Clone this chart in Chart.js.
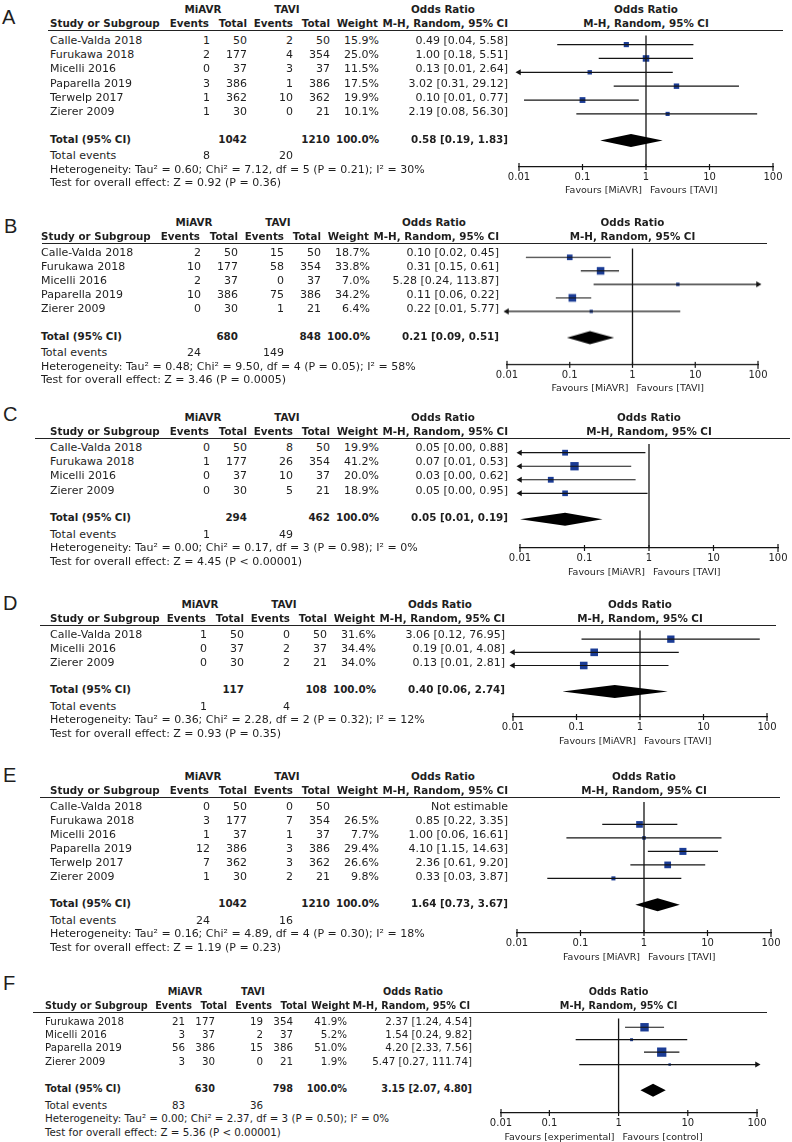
<!DOCTYPE html>
<html>
<head>
<meta charset="utf-8">
<script src="https://cdn.jsdelivr.net/npm/chart.js@4.4.1/dist/chart.umd.min.js"></script>
<style>
  body { margin: 0; background: #fff; }
  #page { position: relative; width: 792px; height: 1142px; overflow: hidden; font-family: "DejaVu Sans", sans-serif; color: #1e1e1e; }
  .t { position: absolute; white-space: nowrap; line-height: 13px; }
  .rule { position: absolute; height: 1px; background: #222; }
  .letter { position: absolute; font-family: "Liberation Sans", sans-serif; font-size: 20px; line-height: 20px; }
  canvas { position: absolute; }
</style>
</head>
<body>
<div id="page"></div>
<script>
// ---- data: A ----
const studiesA = ['Calle-Valda 2018', 'Furukawa 2018', 'Micelli 2016', 'Paparella 2019', 'Terwelp 2017', 'Zierer 2009'];
const miavrEventsA = [1, 2, 0, 3, 1, 1];
const miavrTotalA = [50, 177, 37, 386, 362, 30];
const taviEventsA = [2, 4, 3, 1, 10, 0];
const taviTotalA = [50, 354, 37, 386, 362, 21];
const weightA = [15.9, 25.0, 11.5, 17.5, 19.9, 10.1];
const orA = [0.49, 1.00, 0.13, 3.02, 0.10, 2.19];
const lowA = [0.04, 0.18, 0.006, 0.31, 0.012, 0.08];
const highA = [5.58, 5.51, 2.64, 29.12, 0.77, 56.30];
const sumsA = [1042, 1210, 8, 20];
const pooledA = [0.58, 0.19, 1.83];
const hetA = 'Heterogeneity: Tau² = 0.60; Chi² = 7.12, df = 5 (P = 0.21); I² = 30%';
const testA = 'Test for overall effect: Z = 0.92 (P = 0.36)';

// ---- data: B ----
const studiesB = ['Calle-Valda 2018', 'Furukawa 2018', 'Micelli 2016', 'Paparella 2019', 'Zierer 2009'];
const miavrEventsB = [2, 10, 2, 10, 0];
const miavrTotalB = [50, 177, 37, 386, 30];
const taviEventsB = [15, 58, 0, 75, 1];
const taviTotalB = [50, 354, 37, 386, 21];
const weightB = [18.7, 33.8, 7.0, 34.2, 6.4];
const orB = [0.10, 0.31, 5.28, 0.11, 0.22];
const lowB = [0.02, 0.15, 0.24, 0.06, 0.008];
const highB = [0.45, 0.61, 113.87, 0.22, 5.77];
const sumsB = [680, 848, 24, 149];
const pooledB = [0.21, 0.09, 0.51];
const hetB = 'Heterogeneity: Tau² = 0.48; Chi² = 9.50, df = 4 (P = 0.05); I² = 58%';
const testB = 'Test for overall effect: Z = 3.46 (P = 0.0005)';

// ---- data: C ----
const studiesC = ['Calle-Valda 2018', 'Furukawa 2018', 'Micelli 2016', 'Zierer 2009'];
const miavrEventsC = [0, 1, 0, 0];
const miavrTotalC = [50, 177, 37, 30];
const taviEventsC = [8, 26, 10, 5];
const taviTotalC = [50, 354, 37, 21];
const weightC = [19.9, 41.2, 20.0, 18.9];
const orC = [0.05, 0.07, 0.03, 0.05];
const lowC = [0.003, 0.008, 0.002, 0.003];
const highC = [0.88, 0.53, 0.62, 0.95];
const sumsC = [294, 462, 1, 49];
const pooledC = [0.05, 0.01, 0.19];
const hetC = 'Heterogeneity: Tau² = 0.00; Chi² = 0.17, df = 3 (P = 0.98); I² = 0%';
const testC = 'Test for overall effect: Z = 4.45 (P < 0.00001)';

// ---- data: D ----
const studiesD = ['Calle-Valda 2018', 'Micelli 2016', 'Zierer 2009'];
const miavrEventsD = [1, 0, 0];
const miavrTotalD = [50, 37, 30];
const taviEventsD = [0, 2, 2];
const taviTotalD = [50, 37, 21];
const weightD = [31.6, 34.4, 34.0];
const orD = [3.06, 0.19, 0.13];
const lowD = [0.12, 0.008, 0.008];
const highD = [76.95, 4.08, 2.81];
const sumsD = [117, 108, 1, 4];
const pooledD = [0.40, 0.06, 2.74];
const hetD = 'Heterogeneity: Tau² = 0.36; Chi² = 2.28, df = 2 (P = 0.32); I² = 12%';
const testD = 'Test for overall effect: Z = 0.93 (P = 0.35)';

// ---- data: E ----
const studiesE = ['Calle-Valda 2018', 'Furukawa 2018', 'Micelli 2016', 'Paparella 2019', 'Terwelp 2017', 'Zierer 2009'];
const miavrEventsE = [0, 3, 1, 12, 7, 1];
const miavrTotalE = [50, 177, 37, 386, 362, 30];
const taviEventsE = [0, 7, 1, 3, 3, 2];
const taviTotalE = [50, 354, 37, 386, 362, 21];
const weightE = [null, 26.5, 7.7, 29.4, 26.6, 9.8];
const orE = [null, 0.85, 1.00, 4.10, 2.36, 0.33];
const lowE = [null, 0.22, 0.06, 1.15, 0.61, 0.03];
const highE = [null, 3.35, 16.61, 14.63, 9.20, 3.87];
const sumsE = [1042, 1210, 24, 16];
const pooledE = [1.64, 0.73, 3.67];
const hetE = 'Heterogeneity: Tau² = 0.16; Chi² = 4.89, df = 4 (P = 0.30); I² = 18%';
const testE = 'Test for overall effect: Z = 1.19 (P = 0.23)';

// ---- data: F ----
const studiesF = ['Furukawa 2018', 'Micelli 2016', 'Paparella 2019', 'Zierer 2009'];
const miavrEventsF = [21, 3, 56, 3];
const miavrTotalF = [177, 37, 386, 30];
const taviEventsF = [19, 2, 15, 0];
const taviTotalF = [354, 37, 386, 21];
const weightF = [41.9, 5.2, 51.0, 1.9];
const orF = [2.37, 1.54, 4.20, 5.47];
const lowF = [1.24, 0.24, 2.33, 0.27];
const highF = [4.54, 9.82, 7.56, 111.74];
const sumsF = [630, 798, 83, 36];
const pooledF = [3.15, 2.07, 4.80];
const hetF = 'Heterogeneity: Tau² = 0.00; Chi² = 2.37, df = 3 (P = 0.50); I² = 0%';
const testF = 'Test for overall effect: Z = 5.36 (P < 0.00001)';

const groupLabels = ['MiAVR', 'TAVI'];
const favoursLabels = ['Favours [MiAVR]', 'Favours [TAVI]'];
const favoursLabelsF = ['Favours [experimental]', 'Favours [control]'];
const tickValues = [0.01, 0.1, 1, 10, 100];
const tickValuesF = [0.02, 0.1, 1, 10, 100];
const tickLabels = ['0.01', '0.1', '1', '10', '100'];

// ---- layout ----
const BLUE = '#1b3c95';
const INK = '#141414';
const PAD = 24, AXH = 22;

const colsStd = { study: 50, num: [210, 247, 293, 330, 379, 508], head: [209, 247, 293, 330, 378, 508], groups: [203, 287, 443] };
const colsB = { study: 41, num: [201, 238, 284, 321, 370, 499], head: [200, 238, 284, 321, 369, 499], groups: [194, 278, 434] };
const colsD = { study: 50, num: [207, 244, 290, 327, 376, 505], head: [206, 244, 290, 327, 375, 505], groups: [200, 284, 440] };
const colsF = { study: 45, num: [185, 215, 263, 293, 347, 472], head: [192, 227, 272, 307, 350, 470], groups: [185, 253, 413] };

const page = document.getElementById('page');

function text(str, x, y, align, size, bold) {
  const el = document.createElement('div');
  el.className = 't';
  el.textContent = str;
  el.style.left = x + 'px';
  el.style.top = (y - 6.5) + 'px';
  el.style.fontSize = size + 'px';
  if (bold) el.style.fontWeight = 'bold';
  if (align === 'right') el.style.transform = 'translateX(-100%)';
  if (align === 'center') el.style.transform = 'translateX(-50%)';
  page.appendChild(el);
}

const f2 = v => v.toFixed(2);

// centred tick marks on the log axis
const tickMarks = {
  id: 'tickMarks',
  afterDraw(chart) {
    const s = chart.scales.x, ctx = chart.ctx;
    ctx.save();
    ctx.strokeStyle = INK;
    ctx.lineWidth = 1.2;
    s.ticks.forEach((t, i) => {
      const x = s.getPixelForValue(t.value);
      const h = (i === 0 || i === s.ticks.length - 1) ? 4 : 3;
      ctx.beginPath();
      ctx.moveTo(x, s.top - h);
      ctx.lineTo(x, s.top + h);
      ctx.stroke();
    });
    ctx.restore();
  }
};

// pooled estimate diamond
const diamond = {
  id: 'diamond',
  afterDatasetsDraw(chart, args, opts) {
    const sx = chart.scales.x, sy = chart.scales.y, ctx = chart.ctx;
    const y = sy.getPixelForValue(opts.row);
    ctx.save();
    ctx.fillStyle = '#000';
    ctx.beginPath();
    ctx.moveTo(sx.getPixelForValue(opts.lo), y);
    ctx.lineTo(sx.getPixelForValue(opts.est), y - 6.5);
    ctx.lineTo(sx.getPixelForValue(opts.hi), y);
    ctx.lineTo(sx.getPixelForValue(opts.est), y + 6.5);
    ctx.closePath();
    ctx.fill();
    ctx.restore();
  }
};

function panel(letter, d, L) {
  const C = L.cols, fs = L.fs, fb = L.fs * 0.94;
  const n = d.studies.length;
  const rowY = i => L.rule + 9.3 + i * L.sp;
  const totY = rowY(n - 1) + 27.5;

  // chart
  const canvas = document.createElement('canvas');
  const cw = L.x1 - L.x0 + 2 * PAD, ch = L.axis - L.rule + AXH;
  canvas.width = cw; canvas.height = ch;
  canvas.style.left = (L.x0 - PAD) + 'px';
  canvas.style.top = L.rule + 'px';
  canvas.style.width = cw + 'px';
  canvas.style.height = ch + 'px';
  page.appendChild(canvas);

  const yMin = -9.3 / L.sp, yMax = (L.axis - L.rule - 9.3) / L.sp;
  const totRow = n - 1 + 27.5 / L.sp;
  const datasets = [{
    data: [{ x: 1, y: yMin }, { x: 1, y: yMax }],
    showLine: true, borderColor: INK, borderWidth: 1.3, pointRadius: 0, clip: false
  }];
  d.or.forEach((v, i) => {
    if (v == null) return;
    const lo = d.low[i], hi = d.high[i];
    datasets.push({
      data: [{ x: Math.max(lo, L.xMin), y: i }, { x: Math.min(hi, 100), y: i }],
      showLine: true, borderColor: INK, borderWidth: 1.2, clip: false,
      pointStyle: 'triangle', pointRotation: [-90, 90],
      pointRadius: [lo < L.xMin ? 3.5 : 0, hi > 100 ? 3.5 : 0],
      pointBackgroundColor: INK, pointBorderWidth: 0
    });
  });
  const sq = [], sqR = [];
  d.or.forEach((v, i) => {
    if (v == null) return;
    sq.push({ x: v, y: i });
    sqR.push(Math.max(2.5, 1.3 * Math.sqrt(d.weight[i])) / Math.SQRT2);
  });
  datasets.push({
    data: sq, pointStyle: 'rect', pointRadius: sqR, pointBackgroundColor: BLUE,
    pointBorderWidth: 0, clip: false
  });

  const ticksV = L.ticks;
  const chart = new Chart(canvas, {
    type: 'scatter',
    data: { datasets },
    plugins: [tickMarks, diamond],
    options: {
      responsive: false,
      animation: false,
      events: [],
      layout: { padding: { left: PAD, right: PAD, top: 0, bottom: 0 } },
      plugins: {
        legend: { display: false },
        tooltip: { enabled: false },
        diamond: { est: d.pooled[0], lo: d.pooled[1], hi: d.pooled[2], row: totRow }
      },
      scales: {
        x: {
          type: 'logarithmic', min: L.xMin, max: 100,
          afterBuildTicks: s => { s.ticks = ticksV.map(v => ({ value: v })); },
          afterFit: s => { s.height = AXH; },
          ticks: {
            autoSkip: false, maxRotation: 0, padding: 4, color: '#222',
            font: { family: 'DejaVu Sans', size: 10 },
            callback: (v, i) => tickLabels[i]
          },
          grid: { display: false, drawTicks: false },
          border: { display: true, color: INK, width: 1.2 }
        },
        y: { type: 'linear', reverse: true, min: yMin, max: yMax, display: false }
      }
    }
  });

  const px1 = L.x0 - PAD + chart.scales.x.getPixelForValue(1);

  // letter and rule
  const lt = document.createElement('div');
  lt.className = 'letter';
  lt.textContent = letter;
  lt.style.left = L.letterX + 'px';
  lt.style.top = (L.letterY - 10) + 'px';
  page.appendChild(lt);
  const rule = document.createElement('div');
  rule.className = 'rule';
  rule.style.left = L.ruleL + 'px';
  rule.style.top = (L.rule - 0.5) + 'px';
  rule.style.width = (L.ruleR - L.ruleL) + 'px';
  page.appendChild(rule);

  // headers
  const h1 = L.rule - 21, h2 = L.rule - 7;
  text(groupLabels[0], C.groups[0], h1, 'center', fb, true);
  text(groupLabels[1], C.groups[1], h1, 'center', fb, true);
  text('Odds Ratio', C.groups[2], h1, 'center', fb, true);
  text('Odds Ratio', px1, h1, 'center', fb, true);
  text('Study or Subgroup', C.study, h2, 'left', fb, true);
  ['Events', 'Total', 'Events', 'Total', 'Weight', 'M-H, Random, 95% CI'].forEach((s, k) =>
    text(s, C.head[k], h2, 'right', fb, true));
  text('M-H, Random, 95% CI', px1, h2, 'center', fb, true);

  // study rows
  d.studies.forEach((s, i) => {
    const y = rowY(i);
    text(s, C.study, y, 'left', fs);
    text(String(d.ev1[i]), C.num[0], y, 'right', fs);
    text(String(d.tot1[i]), C.num[1], y, 'right', fs);
    text(String(d.ev2[i]), C.num[2], y, 'right', fs);
    text(String(d.tot2[i]), C.num[3], y, 'right', fs);
    if (d.weight[i] != null) text(d.weight[i].toFixed(1) + '%', C.num[4], y, 'right', fs);
    const orText = d.or[i] == null ? 'Not estimable'
      : `${f2(d.or[i])} [${f2(d.low[i])}, ${f2(d.high[i])}]`;
    text(orText, C.num[5], y, 'right', fs);
  });

  // total rows
  text('Total (95% CI)', C.study, totY, 'left', fb, true);
  text(String(d.sums[0]), C.num[1], totY, 'right', fb, true);
  text(String(d.sums[1]), C.num[3], totY, 'right', fb, true);
  text('100.0%', C.num[4], totY, 'right', fb, true);
  text(`${f2(d.pooled[0])} [${f2(d.pooled[1])}, ${f2(d.pooled[2])}]`, C.num[5], totY, 'right', fb, true);
  text('Total events', C.study, totY + 16.5, 'left', fs);
  text(String(d.sums[2]), C.num[0], totY + 16.5, 'right', fs);
  text(String(d.sums[3]), C.num[2], totY + 16.5, 'right', fs);
  text(d.het, C.study, totY + 30, 'left', fs);
  text(d.test, C.study, totY + 43.5, 'left', fs);

  // favours labels
  text(L.favours[0], px1 - 4, L.axis + 23, 'right', 9.5);
  text(L.favours[1], px1 + 4, L.axis + 23, 'left', 9.5);
}

panel('A', { studies: studiesA, ev1: miavrEventsA, tot1: miavrTotalA, ev2: taviEventsA, tot2: taviTotalA,
  weight: weightA, or: orA, low: lowA, high: highA, sums: sumsA, pooled: pooledA, het: hetA, test: testA },
  { rule: 30.7, axis: 166.7, sp: 14.35, x0: 519, x1: 773, xMin: 0.01, ticks: tickValues, ruleL: 48, ruleR: 783,
    letterX: 2, letterY: 16.5, cols: colsStd, fs: 11, favours: favoursLabels });

panel('B', { studies: studiesB, ev1: miavrEventsB, tot1: miavrTotalB, ev2: taviEventsB, tot2: taviTotalB,
  weight: weightB, or: orB, low: lowB, high: highB, sums: sumsB, pooled: pooledB, het: hetB, test: testB },
  { rule: 243, axis: 364.5, sp: 14.1, x0: 507, x1: 758, xMin: 0.01, ticks: tickValues, ruleL: 42, ruleR: 767,
    letterX: 4, letterY: 226, cols: colsB, fs: 11, favours: favoursLabels });

panel('C', { studies: studiesC, ev1: miavrEventsC, tot1: miavrTotalC, ev2: taviEventsC, tot2: taviTotalC,
  weight: weightC, or: orC, low: lowC, high: highC, sums: sumsC, pooled: pooledC, het: hetC, test: testC },
  { rule: 438, axis: 548, sp: 14.3, x0: 520, x1: 778, xMin: 0.01, ticks: tickValues, ruleL: 35, ruleR: 790,
    letterX: 3, letterY: 414, cols: colsStd, fs: 11, favours: favoursLabels });

panel('D', { studies: studiesD, ev1: miavrEventsD, tot1: miavrTotalD, ev2: taviEventsD, tot2: taviTotalD,
  weight: weightD, or: orD, low: lowD, high: highD, sums: sumsD, pooled: pooledD, het: hetD, test: testD },
  { rule: 625, axis: 717, sp: 14, x0: 513, x1: 767, xMin: 0.01, ticks: tickValues, ruleL: 40, ruleR: 776,
    letterX: 3, letterY: 603, cols: colsD, fs: 11, favours: favoursLabels });

panel('E', { studies: studiesE, ev1: miavrEventsE, tot1: miavrTotalE, ev2: taviEventsE, tot2: taviTotalE,
  weight: weightE, or: orE, low: lowE, high: highE, sums: sumsE, pooled: pooledE, het: hetE, test: testE },
  { rule: 797, axis: 933, sp: 14, x0: 517, x1: 771, xMin: 0.01, ticks: tickValues, ruleL: 40, ruleR: 780,
    letterX: 3, letterY: 775, cols: colsStd, fs: 11, favours: favoursLabels });

panel('F', { studies: studiesF, ev1: miavrEventsF, tot1: miavrTotalF, ev2: taviEventsF, tot2: taviTotalF,
  weight: weightF, or: orF, low: lowF, high: highF, sums: sumsF, pooled: pooledF, het: hetF, test: testF },
  { rule: 1012, axis: 1113, sp: 13.3, x0: 501, x1: 757, xMin: 0.02, ticks: tickValuesF, ruleL: 33, ruleR: 767,
    letterX: 3, letterY: 983, cols: colsF, fs: 10.3, favours: favoursLabelsF });
</script>
</body>
</html>
